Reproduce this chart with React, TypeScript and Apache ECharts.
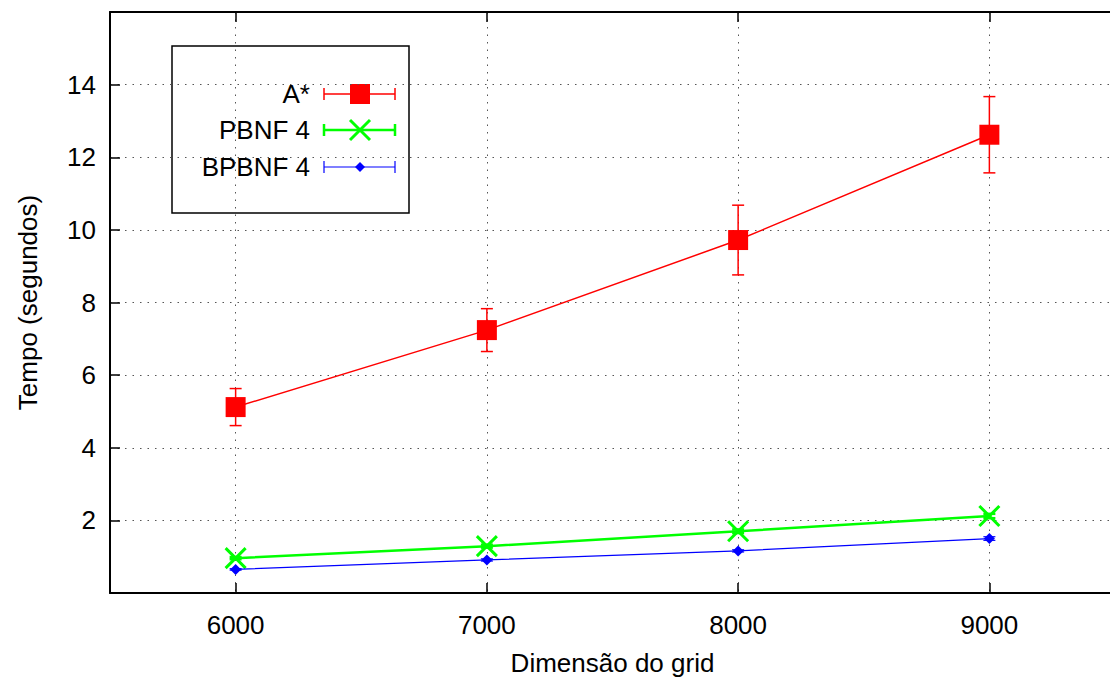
import React, { useEffect, useRef } from "react";
import * as echarts from "echarts";

const dims = [6000, 7000, 8000, 9000];
const aStar = [5.12, 7.24, 9.72, 12.62];
const aStarErr = [0.51, 0.59, 0.96, 1.05];
const pbnf = [0.96, 1.29, 1.7, 2.12];
const pbnfErr = [0.03, 0.04, 0.05, 0.06];
const bpbnf = [0.65, 0.91, 1.16, 1.5];
const bpbnfErr = [0.02, 0.03, 0.03, 0.05];
const yTicks = [2, 4, 6, 8, 10, 12, 14];
const seriesNames = ["A*", "PBNF 4", "BPBNF 4"];
const xName = "Dimensão do grid";
const yName = "Tempo (segundos)";

const FONT = "Liberation Sans, Arial, sans-serif";
const FS = 26;
const RED = "#ff0000";
const GREEN = "#00ff00";
const BLUE = "#0000ff";

function errSeries(vals: number[], errs: number[], color: string, lw: number, z: number) {
  return {
    type: "custom",
    xAxisIndex: 0,
    yAxisIndex: 0,
    z,
    silent: true,
    data: dims.map((d, i) => [d, vals[i] - errs[i], vals[i] + errs[i]]),
    renderItem: (params: any, api: any) => {
      const x = api.value(0);
      const lo = api.coord([x, api.value(1)]);
      const hi = api.coord([x, api.value(2)]);
      const w = 6;
      const st = { stroke: color, lineWidth: lw, fill: "none" };
      return {
        type: "group",
        children: [
          { type: "line", shape: { x1: lo[0], y1: lo[1], x2: hi[0], y2: hi[1] }, style: st },
          { type: "line", shape: { x1: lo[0] - w, y1: lo[1], x2: lo[0] + w, y2: lo[1] }, style: st },
          { type: "line", shape: { x1: hi[0] - w, y1: hi[1], x2: hi[0] + w, y2: hi[1] }, style: st },
        ],
      };
    },
  };
}

function legendRow(y: number, label: string, color: string, lw: number, marker: any) {
  const x1 = 324;
  const x2 = 395;
  const st = { stroke: color, lineWidth: lw };
  return [
    {
      type: "text",
      x: 310,
      y,
      style: { text: label, fill: "#000", font: `${FS}px ${FONT}`, align: "right", verticalAlign: "middle" },
    },
    { type: "line", shape: { x1, y1: y, x2, y2: y }, style: st },
    { type: "line", shape: { x1, y1: y - 6, x2: x1, y2: y + 6 }, style: st },
    { type: "line", shape: { x1: x2, y1: y - 6, x2, y2: y + 6 }, style: st },
    marker,
  ];
}

export default function App() {
  const ref = useRef<HTMLDivElement>(null);
  useEffect(() => {
    if (!ref.current) return;
    const chart = echarts.init(ref.current, null, { renderer: "svg" });
    const gridLine = { show: true, lineStyle: { color: "#555", width: 1, type: [1.5, 6] } };
    const option: any = {
      animation: false,
      backgroundColor: "#fff",
      textStyle: { fontFamily: FONT },
      grid: { left: 110, top: 12, right: 0, bottom: 89, containLabel: false },
      xAxis: [
        {
          type: "value",
          min: 5500,
          max: 9500,
          position: "bottom",
          name: xName,
          nameLocation: "middle",
          nameGap: 57,
          nameTextStyle: { fontSize: FS, color: "#000", fontFamily: FONT },
          axisLine: { show: true, lineStyle: { color: "#000", width: 2 } },
          axisTick: { show: true, inside: true, length: 10, customValues: dims, lineStyle: { color: "#000", width: 1.5 } },
          axisLabel: {
            show: true,
            customValues: dims,
            margin: 19,
            fontSize: FS,
            color: "#000",
            fontFamily: FONT,
            formatter: (v: number) => String(v),
          },
          splitLine: gridLine,
        },
        {
          type: "value",
          min: 5500,
          max: 9500,
          position: "top",
          axisLine: { show: true, lineStyle: { color: "#000", width: 2 } },
          axisTick: { show: true, inside: true, length: 10, customValues: dims, lineStyle: { color: "#000", width: 1.5 } },
          axisLabel: { show: false },
          splitLine: { show: false },
        },
      ],
      yAxis: {
        type: "value",
        min: 0,
        max: 16,
        interval: 2,
        name: yName,
        nameLocation: "middle",
        nameGap: 69,
        nameTextStyle: { fontSize: FS, color: "#000", fontFamily: FONT },
        axisLine: { show: true, lineStyle: { color: "#000", width: 2 } },
        axisTick: { show: true, inside: true, length: 10, lineStyle: { color: "#000", width: 1.5 } },
        axisLabel: {
          margin: 14,
          fontSize: FS,
          color: "#000",
          fontFamily: FONT,
          formatter: (v: number) => (yTicks.includes(v) ? String(v) : ""),
        },
        splitLine: gridLine,
      },
      series: [
        errSeries(aStar, aStarErr, RED, 1.5, 2),
        {
          type: "line",
          name: seriesNames[0],
          z: 3,
          data: dims.map((d, i) => [d, aStar[i]]),
          lineStyle: { color: RED, width: 1.5 },
          itemStyle: { color: RED },
          symbol: "rect",
          symbolSize: 20,
        },
        errSeries(pbnf, pbnfErr, GREEN, 2.5, 4),
        {
          type: "line",
          name: seriesNames[1],
          z: 5,
          data: dims.map((d, i) => [d, pbnf[i]]),
          lineStyle: { color: GREEN, width: 2.5 },
          itemStyle: { color: "none", borderColor: GREEN, borderWidth: 3 },
          symbol: "path://M0,0L10,10M10,0L0,10",
          symbolSize: 20,
        },
        errSeries(bpbnf, bpbnfErr, BLUE, 1.2, 6),
        {
          type: "line",
          name: seriesNames[2],
          z: 7,
          data: dims.map((d, i) => [d, bpbnf[i]]),
          lineStyle: { color: BLUE, width: 1.2 },
          itemStyle: { color: BLUE },
          symbol: "diamond",
          symbolSize: 11,
        },
      ],
      graphic: [
        {
          type: "group",
          z: 100,
          children: [
            {
              type: "rect",
              shape: { x: 172, y: 46, width: 237, height: 167 },
              style: { fill: "#fff", stroke: "#000", lineWidth: 1.5 },
            },
            ...legendRow(94, seriesNames[0], RED, 1.5, {
              type: "rect",
              shape: { x: 350, y: 84, width: 20, height: 20 },
              style: { fill: RED },
            }),
            ...legendRow(130, seriesNames[1], GREEN, 2.5, {
              type: "group",
              children: [
                { type: "line", shape: { x1: 350, y1: 120, x2: 370, y2: 140 }, style: { stroke: GREEN, lineWidth: 3 } },
                { type: "line", shape: { x1: 370, y1: 120, x2: 350, y2: 140 }, style: { stroke: GREEN, lineWidth: 3 } },
              ],
            }),
            ...legendRow(167, seriesNames[2], BLUE, 1.2, {
              type: "polygon",
              shape: { points: [[360, 162], [365, 167], [360, 172], [355, 167]] },
              style: { fill: BLUE },
            }),
          ],
        },
      ],
    };
    chart.setOption(option);
    return () => chart.dispose();
  }, []);
  return (
    <div
      style={{ position: "absolute", left: 0, top: 0, width: 1110, height: 682, overflow: "hidden", background: "#fff" }}
    >
      <div ref={ref} style={{ width: 1115, height: 682 }} />
    </div>
  );
}
